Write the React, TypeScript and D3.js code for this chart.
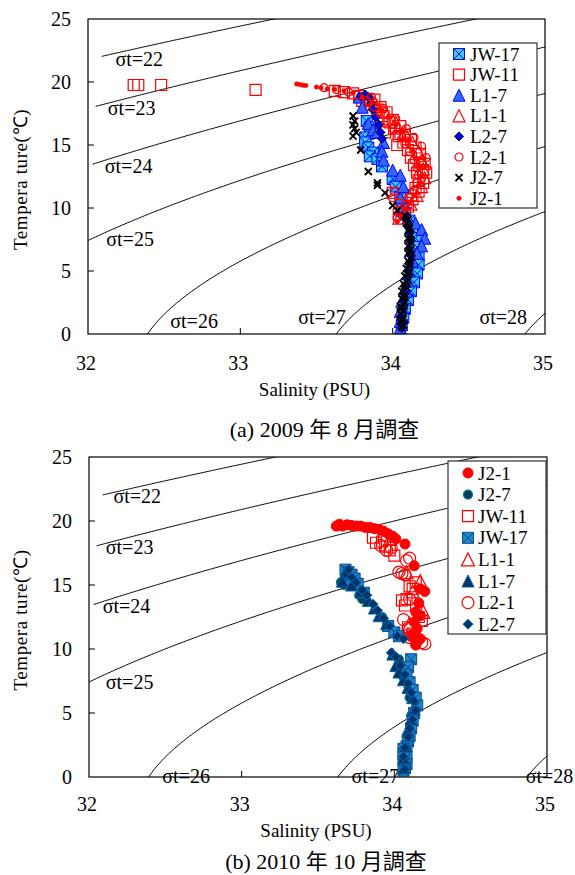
import React from 'react';
import * as d3 from 'd3';

// isopycnal levels and salinity where each drawn line begins
const sigmaLevels = [22, 23, 24, 25, 26, 27, 28];
const sigmaStartS = [32.09, 32.05, 32.03, 32.0, 32.0, 32.0, 32.0];
const salinityTicks = [32, 33, 34, 35];
const tempTicks = [0, 5, 10, 15, 20, 25];

// (a) 2009 Aug  [salinity, temperature]
const aug09JW17 = [[33.83,16.9],[33.85,16.4],[33.82,15.6],[33.82,15.2],[33.84,14.8],[33.87,14.4],[33.85,14.1],[33.9,13.9],[33.93,13.3],[34.0,12.3],[34.02,11.7],[34.05,10.9],[34.07,10.2],[34.08,9.6],[34.11,9.0],[34.13,8.3],[34.15,7.6],[34.16,6.9],[34.17,6.2],[34.17,5.5],[34.16,4.8],[34.14,4.1],[34.12,3.4],[34.1,2.7],[34.08,2.0],[34.07,1.3],[34.06,0.7]];
const aug09JW11 = [[32.3,19.76],[32.33,19.76],[32.48,19.76],[33.1,19.37],[33.62,19.3],[33.68,19.2],[33.74,19.1],[33.78,18.9],[33.83,18.6],[33.86,18.2],[33.9,17.8],[33.94,17.3],[33.98,16.8],[34.01,16.3],[34.04,15.7],[34.07,15.2],[34.1,14.6],[34.12,14.0],[34.14,13.4],[34.16,12.8],[34.17,12.2],[34.15,11.6],[34.12,11.0],[34.09,10.4],[34.06,9.9],[34.04,9.5],[34.18,13.6],[34.2,13.0],[34.03,15.0],[34.0,11.2],[33.95,16.0],[33.8,18.5],[33.88,18.6],[33.92,18.0],[33.96,17.6],[34.0,17.0],[34.05,16.5],[34.08,15.8],[34.12,15.4],[34.15,14.8],[34.18,14.3],[34.21,13.5],[34.22,12.8],[34.2,12.0],[34.17,11.3],[34.13,10.7],[34.1,10.1]];
const aug09L17 = [[33.78,18.8],[33.8,18.0],[33.84,16.7],[33.87,16.2],[33.9,16.0],[33.94,15.2],[33.93,14.5],[33.94,13.8],[34.0,13.0],[34.05,12.6],[34.07,11.7],[34.05,10.8],[34.06,9.8],[34.1,9.2],[34.15,8.8],[34.19,8.3],[34.21,7.6],[34.19,7.0],[34.16,6.4],[34.13,5.8],[34.11,5.0],[34.1,4.2],[34.09,3.4],[34.06,2.6],[34.05,1.8],[34.05,1.0],[34.05,0.5]];
const aug09L11 = [[33.88,18.4],[33.95,17.6],[34.02,16.8],[34.08,16.0],[34.13,15.2],[34.17,14.5],[34.19,13.8],[34.2,13.1],[34.21,12.4],[34.19,11.7],[34.16,11.0],[34.12,10.3],[34.08,9.7],[34.04,9.2]];
const aug09L27 = [[33.79,18.85],[33.82,19.0],[33.84,18.8],[33.86,18.3],[33.87,17.8],[33.89,17.2],[33.91,16.6],[33.92,16.0],[33.93,15.5],[34.08,9.2],[34.1,8.6],[34.11,8.0],[34.12,7.4],[34.11,6.8],[34.12,6.2],[34.11,5.6],[34.1,5.0],[34.09,4.4],[34.09,3.8],[34.08,3.2],[34.07,2.6],[34.07,2.0],[34.06,1.4],[34.07,0.9],[34.06,0.5]];
const aug09L21 = [[33.55,19.55],[33.63,19.4],[33.71,19.2],[33.77,18.95],[33.83,18.5],[33.88,18.0],[33.92,17.5],[33.96,16.9],[34.0,16.3],[34.04,15.7],[34.08,15.1],[34.11,14.5],[34.14,13.8],[34.16,13.2],[34.17,12.6],[34.16,12.0],[34.14,11.4],[34.11,10.8],[34.08,10.2],[34.05,9.7],[34.03,9.2],[34.0,10.8],[34.01,11.3],[33.86,18.8],[33.94,17.9],[34.02,17.1],[34.09,16.3],[34.14,15.6],[34.19,14.9],[34.22,14.0],[34.2,13.4],[34.19,12.3],[34.04,10.4]];
const aug09J27 = [[33.74,17.3],[33.75,16.9],[33.74,16.6],[33.75,16.3],[33.76,16.0],[33.74,15.7],[33.79,14.6],[33.84,12.9],[33.9,11.8],[33.9,12.0],[33.95,11.2],[34.0,10.2],[34.03,9.8],[34.08,9.4],[34.1,9.1],[34.09,8.8],[34.11,8.5],[34.1,8.2],[34.12,7.9],[34.1,7.6],[34.12,7.3],[34.1,7.0],[34.12,6.7],[34.1,6.4],[34.12,6.1],[34.1,5.8],[34.11,5.5],[34.09,5.2],[34.11,4.9],[34.08,4.6],[34.1,4.3],[34.07,4.0],[34.09,3.7],[34.06,3.4],[34.08,3.1],[34.06,2.8],[34.08,2.5],[34.05,2.2],[34.07,1.9],[34.05,1.6],[34.07,1.3],[34.05,1.0],[34.07,0.7],[34.06,0.5],[34.09,9.25],[34.11,8.35],[34.11,7.45],[34.11,6.55],[34.11,5.65],[34.1,4.75],[34.08,3.85],[34.07,2.95],[34.06,2.05],[34.06,1.15]];
const aug09J21 = [[33.37,19.85],[33.39,19.8],[33.41,19.75],[33.43,19.72],[33.5,19.6],[33.53,19.55],[33.57,19.45],[33.62,19.4],[33.68,19.3],[33.74,19.1],[33.8,18.8],[33.86,18.3],[33.92,17.8],[33.97,17.2],[34.02,16.6],[34.06,16.0],[34.1,15.3],[34.13,14.6],[34.15,13.9],[34.17,13.2],[34.18,12.5],[34.17,11.8],[34.14,11.0],[34.11,10.4],[34.08,9.9],[34.05,9.4],[34.03,8.9]];

// (b) 2010 Oct
const oct10J21 = [[33.62,19.6],[33.64,19.75],[33.66,19.6],[33.69,19.7],[33.72,19.65],[33.75,19.6],[33.78,19.6],[33.81,19.5],[33.84,19.5],[33.87,19.4],[33.9,19.35],[33.93,19.2],[33.96,19.0],[33.99,18.8],[34.01,18.6],[34.07,18.2],[34.13,16.5],[34.17,14.7],[34.2,14.5],[34.16,13.6],[34.14,12.9],[34.17,12.6],[34.13,12.1],[34.15,11.6],[34.11,11.0],[34.17,10.8],[34.14,10.3]];
const oct10J27 = [[33.65,15.2],[33.67,15.0],[33.77,14.2],[33.79,13.9],[33.71,15.9],[33.74,15.3],[33.92,12.5],[34.0,11.2],[34.03,9.2],[34.06,7.8],[34.1,6.2],[34.11,4.8],[34.08,3.2],[34.07,1.8],[34.06,0.8]];
const oct10JW11 = [[33.86,18.7],[33.88,18.3],[33.92,18.4],[33.94,18.0],[33.97,17.7],[34.0,17.3],[34.1,14.9],[34.14,15.2],[34.12,14.7],[34.05,13.8],[34.07,13.4],[34.08,13.9],[34.16,12.5],[34.18,12.2],[34.09,11.7],[34.12,11.2]];
const oct10JW17 = [[33.68,16.2],[33.7,16.0],[33.72,15.8],[33.74,15.5],[33.69,15.4],[33.76,15.1],[33.8,14.4],[33.96,11.8],[34.0,11.3],[34.03,11.0],[34.11,9.2],[34.09,8.6],[34.08,8.0],[34.1,7.4],[34.12,6.8],[34.14,6.2],[34.15,5.6],[34.13,5.0],[34.12,4.4],[34.11,3.8],[34.1,3.2],[34.09,2.8],[34.08,2.4],[34.07,2.0],[34.08,1.6],[34.06,1.3],[34.08,1.0],[34.07,0.7],[34.06,0.5],[34.06,2.2],[34.06,1.8]];
const oct10L11 = [[33.97,18.6],[34.08,16.0],[34.17,15.3],[34.12,14.5],[34.1,12.0],[34.15,11.2],[34.19,12.9]];
const oct10L17 = [[33.68,16.0],[33.66,15.3],[33.72,15.0],[33.78,14.5],[33.83,13.8],[33.87,13.2],[33.9,12.6],[33.95,12.0],[33.99,9.6],[34.01,8.7],[34.03,8.2],[34.06,7.6],[34.09,7.0],[34.12,6.2],[34.13,5.3],[34.11,4.5],[34.09,3.6],[34.07,2.4],[34.06,1.5],[34.06,0.7]];
const oct10L21 = [[33.91,18.1],[33.95,17.7],[33.98,17.9],[34.08,16.9],[34.1,17.1],[34.03,16.0],[34.05,15.9],[34.07,15.8],[34.1,13.9],[34.06,12.3],[34.09,11.6],[34.12,11.0],[34.15,10.7],[34.18,10.5],[34.2,10.4],[34.1,10.9]];
const oct10L27 = [[33.7,16.2],[33.72,15.6],[33.75,15.2],[33.79,14.6],[33.82,14.2],[33.86,13.5],[33.89,13.0],[33.93,12.4],[33.97,11.8],[34.02,11.0],[34.06,10.8],[33.98,9.7],[34.01,9.4],[34.04,8.7],[34.07,8.0],[34.09,7.3],[34.11,6.6],[34.13,5.9],[34.14,5.2],[34.12,4.5],[34.1,3.8],[34.09,3.1],[34.07,2.3],[34.06,1.6],[34.07,0.6]];

// UNESCO 1980 equation of state at surface pressure
function sigmaT(S: number, T: number) {
  const rw = 999.842594 + 6.793952e-2 * T - 9.09529e-3 * T * T + 1.001685e-4 * T ** 3 - 1.120083e-6 * T ** 4 + 6.536332e-9 * T ** 5;
  const a = 8.24493e-1 - 4.0899e-3 * T + 7.6438e-5 * T * T - 8.2467e-7 * T ** 3 + 5.3875e-9 * T ** 4;
  const b = -5.72466e-3 + 1.0227e-4 * T - 1.6546e-6 * T * T;
  return rw + a * S + b * S ** 1.5 + 4.8314e-4 * S * S - 1000;
}
function tempAt(S: number, sig: number) {
  let lo = -3, hi = 40;
  for (let i = 0; i < 50; i++) {
    const mid = (lo + hi) / 2;
    if (sigmaT(S, mid) > sig) lo = mid; else hi = mid;
  }
  return (lo + hi) / 2;
}
const isopycnals = sigmaLevels.map((sig, i) =>
  d3.range(sigmaStartS[i], 35.001, 0.01).map((S) => [S, tempAt(S, sig)])
    .filter((p) => p[1] > -1 && p[1] < 26));

function markerPath(shape: string, size: number) {
  const h = size / 2;
  switch (shape) {
    case 'square':
    case 'squareX': return `M${-h},${-h}h${size}v${size}h${-size}Z`;
    case 'triangle': return `M0,${-h}L${h},${h}L${-h},${h}Z`;
    case 'diamond': return `M0,${-h}L${h},0L0,${h}L${-h},0Z`;
    case 'x': return `M${-h},${-h}L${h},${h}M${h},${-h}L${-h},${h}`;
    default: return d3.symbol(d3.symbolCircle, Math.PI * h * h)() as string;
  }
}

function Marker({ st, x, y }: any) {
  const h = st.size / 2;
  return (
    <g transform={`translate(${x},${y})`}>
      <path d={markerPath(st.shape, st.size)} fill={st.shape === 'x' ? 'none' : st.fill}
        stroke={st.stroke} strokeWidth={st.sw} />
      {st.shape === 'squareX' && (
        <path d={`M${-h},${-h}L${h},${h}M${h},${-h}L${-h},${h}`} stroke={st.stroke} strokeWidth={st.sw} fill="none" />
      )}
    </g>
  );
}

const serif = "'Liberation Serif', 'Times New Roman', serif";
const cjkSerif = "'Liberation Serif', 'Noto Sans CJK TC', serif";

const chartA = {
  id: 'a', x0: 88, x1: 545, y0: 19, y1: 334,
  caption: '(a) 2009 年 8 月調查', captionY: 437, xTitleY: 396, xTickY: 370,
  sigLabels: [[32.18, 21.27], [32.13, 17.38], [32.11, 12.78], [32.12, 6.98], [32.54, 0.48], [33.38, 0.79], [34.57, 0.79]],
  legend: { x: 439, y: 43, w: 98, h: 165, mx: 459, tx: 470, row0: 54, step: 20.6 },
  series: [
    { name: 'JW-17', data: aug09JW17, shape: 'squareX', size: 11, fill: '#33CCFF', stroke: '#0000FF', sw: 1 },
    { name: 'JW-11', data: aug09JW11, shape: 'square', size: 11, fill: 'none', stroke: '#FF0000', sw: 1.2 },
    { name: 'L1-7', data: aug09L17, shape: 'triangle', size: 12, fill: '#3366FF', stroke: '#0000FF', sw: 1 },
    { name: 'L1-1', data: aug09L11, shape: 'triangle', size: 12, fill: 'none', stroke: '#FF0000', sw: 1.2 },
    { name: 'L2-7', data: aug09L27, shape: 'diamond', size: 9, fill: '#0000FF', stroke: '#000000', sw: 1 },
    { name: 'L2-1', data: aug09L21, shape: 'circle', size: 8, fill: 'none', stroke: '#FF0000', sw: 1.2 },
    { name: 'J2-7', data: aug09J27, shape: 'x', size: 7, fill: 'none', stroke: '#000000', sw: 1.9 },
    { name: 'J2-1', data: aug09J21, shape: 'circle', size: 4.5, fill: '#FF0000', stroke: '#FF0000', sw: 0.5 },
  ],
};

const chartB = {
  id: 'b', x0: 89, x1: 547, y0: 457, y1: 777,
  caption: '(b) 2010 年 10 月調查', captionY: 869, xTitleY: 837, xTickY: 811,
  sigLabels: [[32.16, 21.4], [32.11, 17.42], [32.09, 12.81], [32.11, 6.88], [32.48, -0.47], [33.72, -0.47], [34.86, -0.47]],
  legend: { x: 448, y: 461, w: 98, h: 173, mx: 468, tx: 478, row0: 473, step: 21.6 },
  series: [
    { name: 'J2-1', data: oct10J21, shape: 'circle', size: 10, fill: '#FF0000', stroke: '#FF0000', sw: 1 },
    { name: 'J2-7', data: oct10J27, shape: 'circle', size: 9, fill: '#003A5C', stroke: '#00807F', sw: 1.2 },
    { name: 'JW-11', data: oct10JW11, shape: 'square', size: 11, fill: 'none', stroke: '#FF0000', sw: 1.2 },
    { name: 'JW-17', data: oct10JW17, shape: 'squareX', size: 11, fill: '#1E88D0', stroke: '#0B4A8A', sw: 1 },
    { name: 'L1-1', data: oct10L11, shape: 'triangle', size: 13, fill: 'none', stroke: '#FF0000', sw: 1.2 },
    { name: 'L1-7', data: oct10L17, shape: 'triangle', size: 12, fill: '#003366', stroke: '#0060A8', sw: 1 },
    { name: 'L2-1', data: oct10L21, shape: 'circle', size: 12, fill: 'none', stroke: '#FF0000', sw: 1.2 },
    { name: 'L2-7', data: oct10L27, shape: 'diamond', size: 10, fill: '#003366', stroke: '#0070C0', sw: 1 },
  ],
};

function Chart({ cfg }: any) {
  const x = d3.scaleLinear().domain([32, 35]).range([cfg.x0, cfg.x1]);
  const y = d3.scaleLinear().domain([0, 25]).range([cfg.y1, cfg.y0]);
  const line = d3.line<number[]>().x((d) => x(d[0])).y((d) => y(d[1]));
  const cx = (cfg.x0 + cfg.x1) / 2;
  const lg = cfg.legend;
  return (
    <g>
      <defs>
        <clipPath id={`clip-${cfg.id}`}>
          <rect x={cfg.x0} y={cfg.y0} width={cfg.x1 - cfg.x0} height={cfg.y1 - cfg.y0} />
        </clipPath>
      </defs>
      <g clipPath={`url(#clip-${cfg.id})`}>
        {isopycnals.map((pts, i) => (
          <path key={i} d={line(pts as any) as string} fill="none" stroke="#000" strokeWidth={1} />
        ))}
      </g>
      {sigmaLevels.map((s, i) => (
        <text key={s} x={x(cfg.sigLabels[i][0])} y={y(cfg.sigLabels[i][1])} fontFamily={serif}
          fontSize={20} fill="#000">σt={s}</text>
      ))}
      {cfg.series.map((st: any) => (
        <g key={st.name}>
          {st.data.map((d: number[], j: number) => (
            <Marker key={j} st={st} x={x(d[0])} y={y(d[1])} />
          ))}
        </g>
      ))}
      <rect x={cfg.x0} y={cfg.y0} width={cfg.x1 - cfg.x0} height={cfg.y1 - cfg.y0} fill="none" stroke="#000" strokeWidth={1.2} />
      {tempTicks.map((t) => (
        <g key={t}>
          {t > 0 && t < 25 && <line x1={cfg.x0} x2={cfg.x0 + 6} y1={y(t)} y2={y(t)} stroke="#000" />}
          <text x={cfg.x0 - 17} y={y(t)} dy="0.35em" textAnchor="end" fontFamily={serif} fontSize={20}>{t}</text>
        </g>
      ))}
      {salinityTicks.map((s) => (
        <g key={s}>
          {s > 32 && s < 35 && <line x1={x(s)} x2={x(s)} y1={cfg.y1} y2={cfg.y1 - 6} stroke="#000" />}
          <text x={x(s) - 2} y={cfg.xTickY} textAnchor="middle" fontFamily={serif} fontSize={20}>{s}</text>
        </g>
      ))}
      <text x={cx - 2} y={cfg.xTitleY} textAnchor="middle" fontFamily={serif} fontSize={19}>Salinity (PSU)</text>
      <text transform={`translate(27,${(cfg.y0 + cfg.y1) / 2 + 3}) rotate(-90)`} textAnchor="middle"
        fontFamily={serif} fontSize={19} letterSpacing={0.6}>Tempera ture(℃)</text>
      <text x={cx + 8} y={cfg.captionY} textAnchor="middle" fontFamily={cjkSerif} fontSize={22}>{cfg.caption}</text>
      <rect x={lg.x} y={lg.y} width={lg.w} height={lg.h} fill="#fff" stroke="#333" strokeWidth={1.2} />
      {cfg.series.map((st: any, i: number) => (
        <g key={st.name}>
          <Marker st={st} x={lg.mx} y={lg.row0 + i * lg.step} />
          <text x={lg.tx} y={lg.row0 + i * lg.step} dy="0.35em" fontFamily={serif} fontSize={19}>{st.name}</text>
        </g>
      ))}
    </g>
  );
}

export default function App() {
  return (
    <svg width={575} height={875} style={{ position: 'absolute', left: 0, top: 0, background: '#fff' }}>
      <Chart cfg={chartA} />
      <Chart cfg={chartB} />
    </svg>
  );
}
